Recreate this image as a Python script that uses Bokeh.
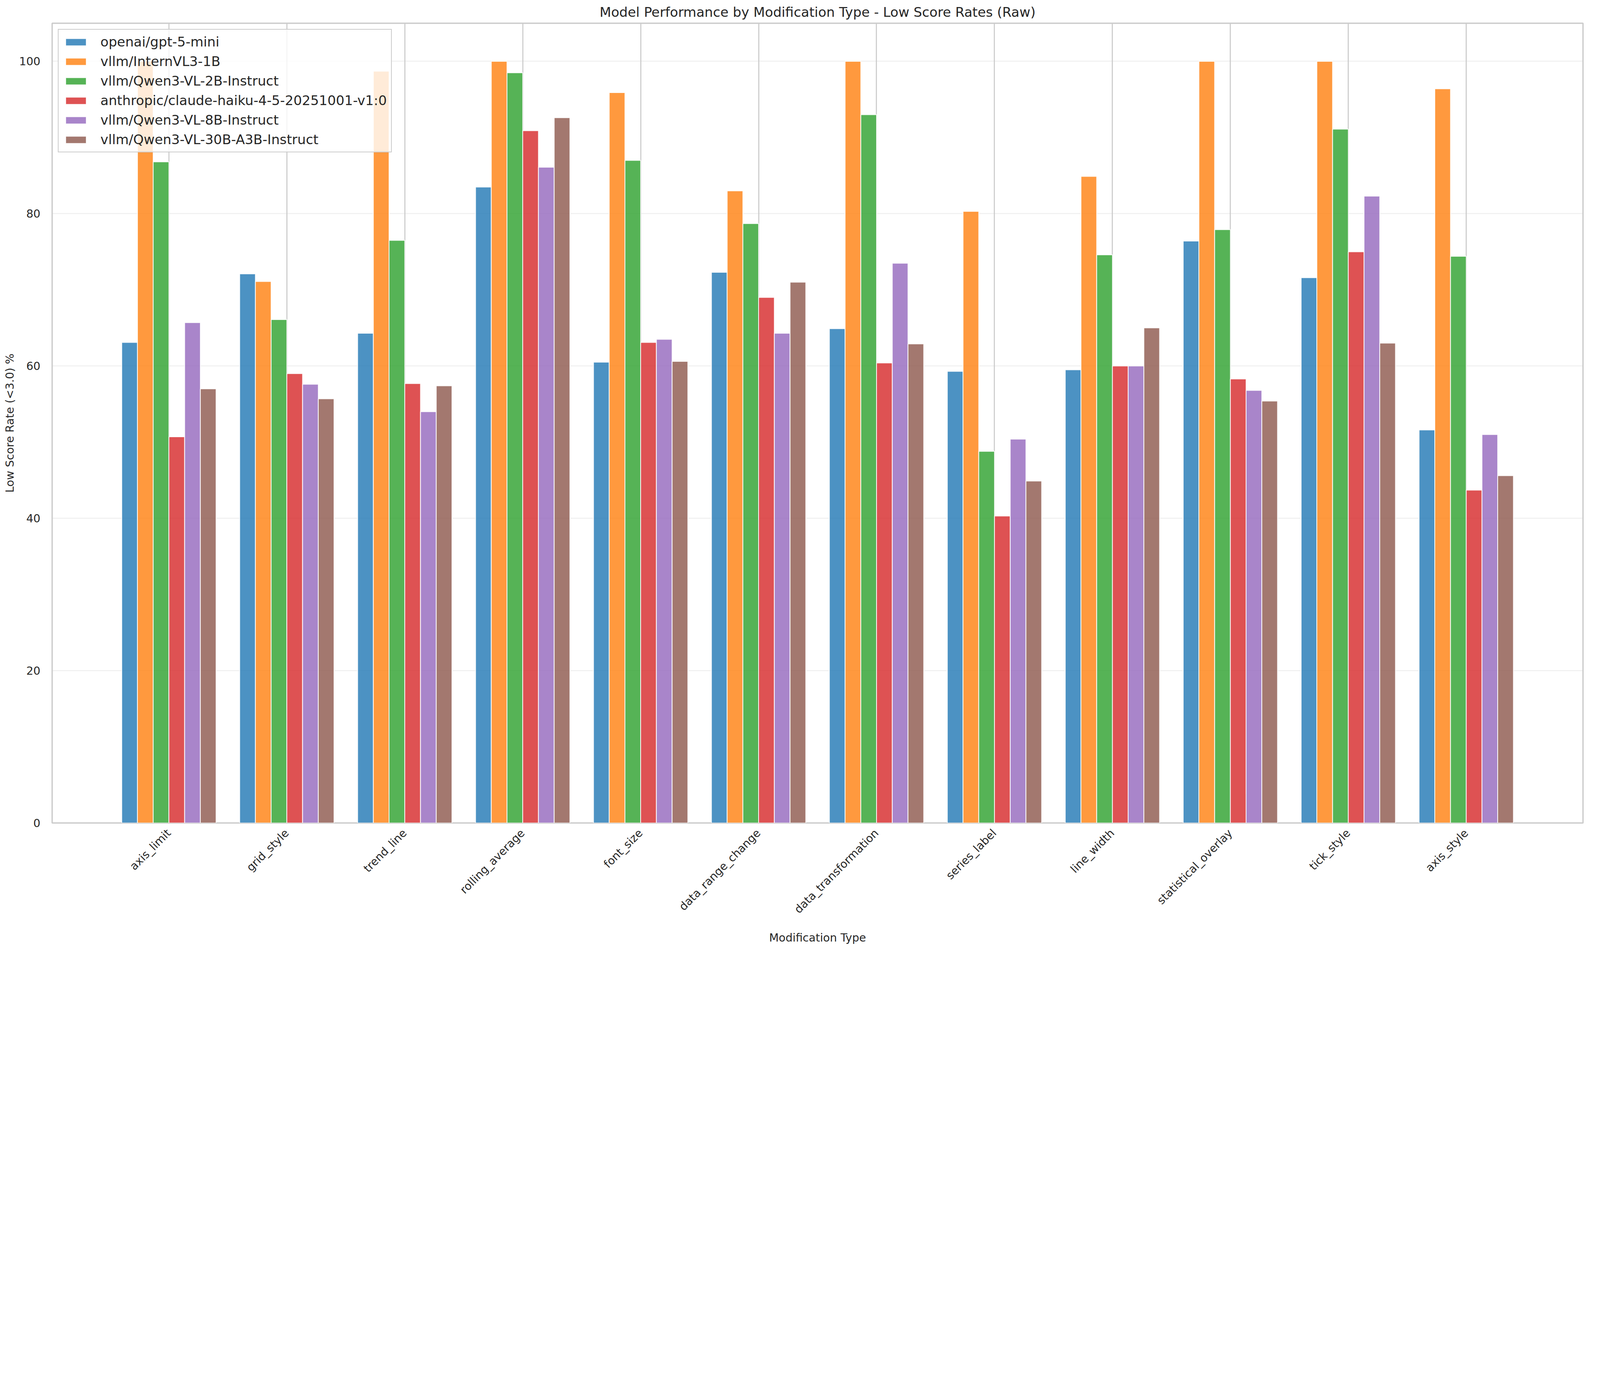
import math
from bokeh.plotting import figure
from bokeh.models import ColumnDataSource, Range1d, FixedTicker
from bokeh.transform import dodge
from bokeh.embed import file_html
from bokeh.resources import INLINE

categories = ["axis_limit", "grid_style", "trend_line", "rolling_average", "font_size",
              "data_range_change", "data_transformation", "series_label", "line_width",
              "statistical_overlay", "tick_style", "axis_style"]

models = ["openai/gpt-5-mini", "vllm/InternVL3-1B", "vllm/Qwen3-VL-2B-Instruct",
          "anthropic/claude-haiku-4-5-20251001-v1:0", "vllm/Qwen3-VL-8B-Instruct",
          "vllm/Qwen3-VL-30B-A3B-Instruct"]

gpt5_mini = [63.1, 72.1, 64.3, 83.5, 60.5, 72.3, 64.9, 59.3, 59.5, 76.4, 71.6, 51.6]
internvl3_1b = [100.0, 71.1, 98.7, 100.0, 95.9, 83.0, 100.0, 80.3, 84.9, 100.0, 100.0, 96.4]
qwen3_2b = [86.8, 66.1, 76.5, 98.5, 87.0, 78.7, 93.0, 48.8, 74.6, 77.9, 91.1, 74.4]
claude_haiku = [50.7, 59.0, 57.7, 90.9, 63.1, 69.0, 60.4, 40.3, 60.0, 58.3, 75.0, 43.7]
qwen3_8b = [65.7, 57.6, 54.0, 86.1, 63.5, 64.3, 73.5, 50.4, 60.0, 56.8, 82.3, 51.0]
qwen3_30b = [57.0, 55.7, 57.4, 92.6, 60.6, 71.0, 62.9, 44.9, 65.0, 55.4, 63.0, 45.6]

y_ticks = [0, 20, 40, 60, 80, 100]

colors = ["#1f77b4", "#ff7f0e", "#2ca02c", "#d62728", "#9467bd", "#8c564b"]
series = [gpt5_mini, internvl3_1b, qwen3_2b, claude_haiku, qwen3_8b, qwen3_30b]

FONT = "DejaVu Sans"
TXT = "#262626"

# The browser viewport observed is about 4096 px wide, so the whole layout
# is drawn at this fraction of the reference's pixel size so that it all fits.
F = 0.684


def px(v):
    return "%.1fpx" % (v * F)


data = {"x": list(range(len(categories))), "cat": categories}
for j, s in enumerate(series):
    data["m%d" % j] = s
source = ColumnDataSource(data=data)

p = figure(frame_width=round(5730 * F), frame_height=round(2992 * F),
           min_border_left=round(194 * F), min_border_right=20,
           min_border_top=round(84 * F), min_border_bottom=round(471 * F),
           x_range=Range1d(-0.99, 11.99), y_range=Range1d(0, 105),
           output_backend="svg", toolbar_location=None,
           title="Model Performance by Modification Type - Low Score Rates (Raw)")

p.background_fill_color = "white"
p.border_fill_color = "white"
p.outline_line_color = "#cccccc"
p.outline_line_width = 5 * F

bw = 0.8 / len(models)
for j, (name, col) in enumerate(zip(models, colors)):
    p.vbar(x=dodge("x", (j - 2.5) * bw, range=p.x_range), top="m%d" % j, width=bw,
           source=source, fill_color=col, fill_alpha=0.8,
           line_color="white", line_width=3 * F, line_alpha=0.9, legend_label=name)

# title
p.title.text_font = FONT
p.title.text_font_size = px(50)
p.title.text_font_style = "normal"
p.title.text_color = TXT
p.title.align = "center"
p.title.standoff = round(25 * F)

# axes
xa = p.xaxis[0]
xa.ticker = FixedTicker(ticks=list(range(len(categories))))
xa.major_label_overrides = {i: c for i, c in enumerate(categories)}
xa.major_label_orientation = math.pi / 4
xa.axis_label = "Modification Type"

ya = p.yaxis[0]
ya.ticker = FixedTicker(ticks=y_ticks)
ya.axis_label = "Low Score Rate (<3.0) %"

for ax in (xa, ya):
    ax.axis_line_color = None
    ax.major_tick_line_color = None
    ax.minor_tick_line_color = None
    ax.major_label_text_font = FONT
    ax.major_label_text_font_size = px(41.7)
    ax.major_label_text_color = TXT
    ax.axis_label_text_font = FONT
    ax.axis_label_text_font_size = px(41.7)
    ax.axis_label_text_font_style = "normal"
    ax.axis_label_text_color = TXT

xa.major_label_standoff = round(22 * F)
xa.axis_label_standoff = round(37 * F)
ya.major_label_standoff = round(35 * F)
ya.axis_label_standoff = round(6 * F)

# grids
p.xgrid.grid_line_color = "#cccccc"
p.xgrid.grid_line_width = 4 * F
p.ygrid.grid_line_color = "#cccccc"
p.ygrid.grid_line_alpha = 0.3
p.ygrid.grid_line_width = 4 * F

# legend
lg = p.legend[0]
lg.location = "top_left"
lg.margin = round(22 * F)
lg.padding = round(16 * F)
lg.spacing = round(15 * F)
lg.glyph_width = round(97 * F)
lg.glyph_height = round(34 * F)
lg.label_standoff = round(44 * F)
lg.label_text_font = FONT
lg.label_text_font_size = px(50)
lg.label_text_color = TXT
lg.background_fill_color = "white"
lg.background_fill_alpha = 0.8
lg.border_line_color = "#cccccc"
lg.border_line_width = 3 * F
lg.border_line_alpha = 1.0

open("out.html", "w").write(file_html(p, INLINE))
